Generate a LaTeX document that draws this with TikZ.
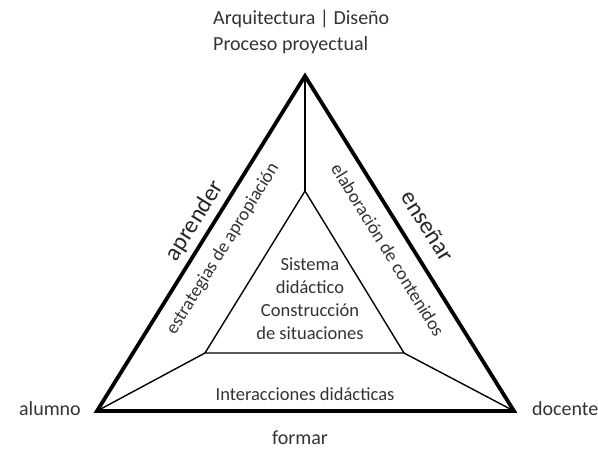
\documentclass[tikz,border=0pt]{standalone}
\usepackage{fontspec}
\setmainfont{Carlito}
\begin{document}
\begin{tikzpicture}[x=1pt,y=-1pt,
  outer/.style={line width=3.8pt,line join=miter},
  inner/.style={line width=1.4pt},
  lbl/.style={font=\fontsize{20}{26}\selectfont,text=black!80,inner sep=0pt},
  small/.style={font=\fontsize{18.5}{23}\selectfont,text=black!80,inner sep=0pt},
  big/.style={font=\fontsize{24}{28}\selectfont,text=black!85,inner sep=0pt}]
\useasboundingbox (0,0) rectangle (598,449);
\coordinate (A) at (305,76);
\coordinate (B) at (97,411);
\coordinate (C) at (514,411);
\coordinate (a) at (305,191);
\coordinate (b) at (205,353);
\coordinate (c) at (404,353);
\draw[outer] (A) -- (B) -- (C) -- cycle;
\draw[inner] (a) -- (b) -- (c) -- cycle;
\draw[inner] (A) -- (a);
\draw[inner] (B) -- (b);
\draw[inner] (C) -- (c);
\node[lbl,align=left,anchor=west] (top) at (213,32) {Arquitectura | Diseño\\Proceso proyectual};
\node[lbl,anchor=east] (alumno) at (81,409) {alumno};
\node[lbl,anchor=west] (docente) at (532,409) {docente};
\node[lbl] (formar) at (300,438) {formar};
\node[small] (inter) at (305,394) {Interacciones didácticas};
\node[small,align=center] (sis) at (310,299) {Sistema\\didáctico\\Construcción\\de situaciones};
\node[big,rotate=58.3] (apr) at (195,221) {aprender};
\node[small,rotate=58.3] (est) at (223,249) {estrategias de apropiación};
\node[small,rotate=-58.3] (ela) at (388,250) {elaboración de contenidos};
\node[big,rotate=-58.3] (ens) at (428,226) {enseñar};
\end{tikzpicture}
\end{document}
